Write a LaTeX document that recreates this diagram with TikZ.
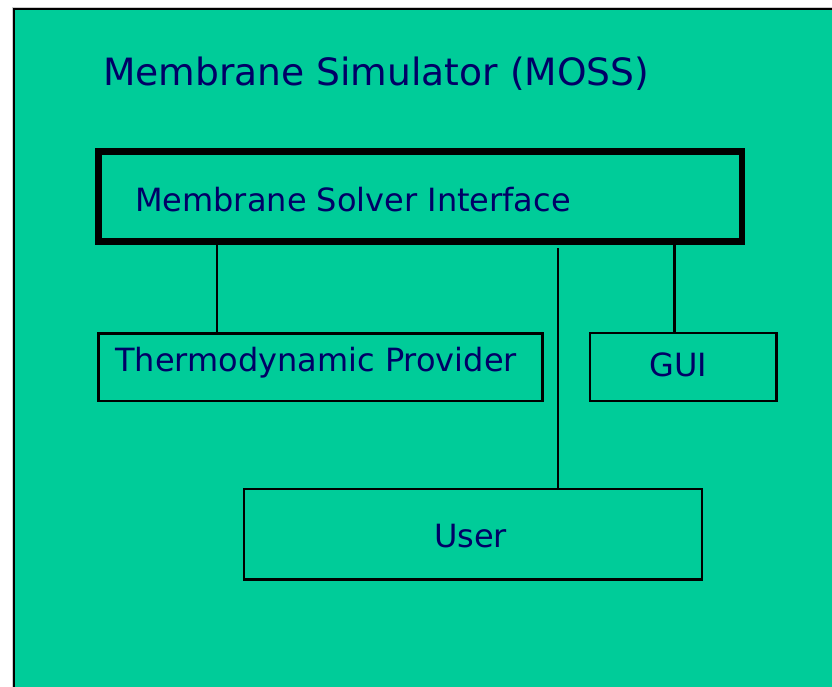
\documentclass[tikz,border=0pt]{standalone}
\usepackage{fontspec}
\setmainfont{DejaVu Sans}
\definecolor{slide}{HTML}{00CC99}
\definecolor{ink}{HTML}{000066}
\tikzset{
  thin box/.style={draw=black, line width=2.4pt},
  link/.style={draw=black, line width=2.4pt},
  label text/.style={inner sep=0pt, anchor=base west, text=ink, font=\fontsize{32}{38}\selectfont},
}
\begin{document}
\begin{tikzpicture}[x=1pt, y=-1pt]
\useasboundingbox (0,0) rectangle (832,686);
\fill[white] (0,0) rectangle (832,686);
\begin{scope}
\clip (0,0) rectangle (832,686);
\draw[gray!40, line width=1pt] (12,7) rectangle (900,760);
\draw[fill=slide, draw=black, line width=2.4pt] (14,9) rectangle (900,760);
\end{scope}

% title
\node[label text, font=\fontsize{37.6}{44}\selectfont] (title) at (103,85) {Membrane Simulator (MOSS)};

% solver interface, drawn with a heavy frame
\draw[line width=6.5pt] (98.5,151.5) rectangle (742,241.5);
\node[label text] (msi) at (135,211) {Membrane Solver Interface};
\coordinate (msiThermo) at (217,244.5);
\coordinate (msiGui) at (674.3,244.5);
\coordinate (userTop) at (557.7,248);

\draw[thin box] (98.3,333.3) rectangle (542.3,400.7);
\node[label text] (thermo) at (115,371.7) {Thermodynamic Provider};
\coordinate (thermoTop) at (217,333.3);

\draw[thin box] (589.7,333) rectangle (776.3,401);
\node[label text] (gui) at (649,376.7) {GUI};
\coordinate (guiTop) at (674.3,333);

\draw[thin box] (244,488.7) rectangle (702,579.3);
\node[label text] (user) at (434,547) {User};
\coordinate (userBox) at (557.7,488.7);

% connectors
\draw[link] (msiThermo) -- (thermoTop);
\draw[link] (msiGui) -- (guiTop);
\draw[link] (userTop) -- (userBox);
\end{tikzpicture}
\end{document}
